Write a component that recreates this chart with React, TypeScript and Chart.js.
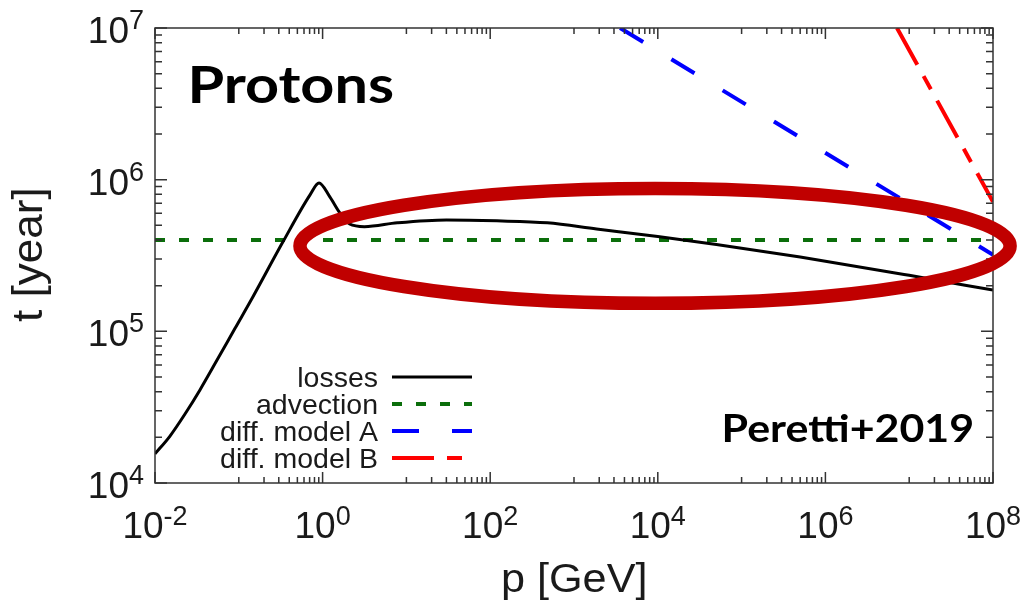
import React, { useEffect, useRef } from "react";
import { Chart, registerables } from "chart.js";

Chart.register(...registerables);

// ---------- data ----------
const X_MIN = 1e-2;
const X_MAX = 1e8;
const Y_MIN = 1e4;
const Y_MAX = 1e7;

// losses (black)
const lossesP = [1e-2, 1.51e-2, 2.28e-2, 3.44e-2, 5.5e-2, 9.02e-2, 0.1476, 0.3365, 0.708, 0.906, 1.22, 1.62, 2.1, 3.16, 7.8, 30, 120, 480, 1.86e3, 1e4, 5e4, 5e5, 1e7, 1e8];
const lossesT = [1.556e4, 2.04e4, 2.85e4, 4.11e4, 6.46e4, 1.047e5, 1.69e5, 3.89e5, 7.94e5, 9.5e5, 7.7e5, 6.0e5, 5.1e5, 4.9e5, 5.19e5, 5.42e5, 5.35e5, 5.19e5, 4.73e5, 4.22e5, 3.74e5, 3.09e5, 2.34e5, 1.87e5];

// advection (green)
const advectionP = [1e-2, 1e8];
const advectionT = [4e5, 4e5];

// diffusion model A (blue)
const diffAP = [3.55e3, 1e8];
const diffAT = [1e7, 3.2e5];

// diffusion model B (red)
const diffBP = [7.15e6, 1e8];
const diffBT = [1e7, 7.15e5];

// axis ticks
const xMajorExp = [-2, 0, 2, 4, 6, 8];
const xMinorDecadeExp = [-1, 1, 3, 5, 7];
const yMajorExp = [4, 5, 6, 7];

// highlight ellipse (data-space extents)
const ellipseP = [0.537, 1.6e8];
const ellipseT = [1.53e5, 8.75e5];

const seriesLabels = ["losses", "advection", "diff. model A", "diff. model B"];

const toXY = (xs: number[], ys: number[]) => xs.map((x, i) => ({ x, y: ys[i] }));

const TXT = "#1a1a1a";
const SANS = "'Liberation Sans', Arial, sans-serif";

function fitText(ctx: CanvasRenderingContext2D, text: string, font: string, left: number, right: number, baseline: number) {
  ctx.save();
  ctx.font = font;
  ctx.textAlign = "left";
  ctx.textBaseline = "alphabetic";
  const m = ctx.measureText(text);
  const vis = m.actualBoundingBoxLeft + m.actualBoundingBoxRight;
  const sx = (right - left) / vis;
  ctx.translate(left, baseline);
  ctx.scale(sx, 1);
  ctx.fillText(text, m.actualBoundingBoxLeft, 0);
  ctx.restore();
}

const decorPlugin = {
  id: "decor",
  afterDatasetsDraw(chart: any) {
    const ctx: CanvasRenderingContext2D = chart.ctx;
    const a = chart.chartArea;
    const xs = chart.scales.x;
    const ys = chart.scales.y;
    ctx.save();

    // frame
    ctx.strokeStyle = "#333";
    ctx.lineWidth = 1.5;
    ctx.setLineDash([]);
    ctx.strokeRect(a.left, a.top, a.right - a.left, a.bottom - a.top);

    // ticks (inward, mirrored)
    const tick = (px: number, len: number, vertical: boolean) => {
      ctx.beginPath();
      if (vertical) {
        ctx.moveTo(px, a.bottom);
        ctx.lineTo(px, a.bottom - len);
        ctx.moveTo(px, a.top);
        ctx.lineTo(px, a.top + len);
      } else {
        ctx.moveTo(a.left, px);
        ctx.lineTo(a.left + len, px);
        ctx.moveTo(a.right, px);
        ctx.lineTo(a.right - len, px);
      }
      ctx.stroke();
    };
    xMajorExp.forEach((e) => tick(xs.getPixelForValue(Math.pow(10, e)), 11, true));
    xMinorDecadeExp.forEach((e) => {
      for (let k = 1; k <= 9; k++) tick(xs.getPixelForValue(k * Math.pow(10, e)), 6, true);
    });
    yMajorExp.forEach((e) => tick(ys.getPixelForValue(Math.pow(10, e)), 12, false));
    yMajorExp.slice(0, -1).forEach((e) => {
      for (let k = 2; k <= 9; k++) tick(ys.getPixelForValue(k * Math.pow(10, e)), 7, false);
    });

    // tick labels
    const baseFont = `37px ${SANS}`;
    const supFont = `27px ${SANS}`;
    ctx.fillStyle = TXT;
    ctx.textBaseline = "alphabetic";
    ctx.textAlign = "left";
    xMajorExp.forEach((e) => {
      const px = xs.getPixelForValue(Math.pow(10, e));
      ctx.font = baseFont;
      const w1 = ctx.measureText("10").width;
      ctx.font = supFont;
      const sup = e < 0 ? "-" + Math.abs(e) : String(e);
      const w2 = ctx.measureText(sup).width;
      const start = px - (w1 + w2) / 2;
      ctx.font = baseFont;
      ctx.fillText("10", start, 538);
      ctx.font = supFont;
      ctx.fillText(sup, start + w1, 525);
    });
    yMajorExp.forEach((e) => {
      const py = ys.getPixelForValue(Math.pow(10, e));
      ctx.font = baseFont;
      const w1 = ctx.measureText("10").width;
      ctx.font = supFont;
      const sup = String(e);
      const w2 = ctx.measureText(sup).width;
      const end = 144;
      ctx.font = baseFont;
      ctx.fillText("10", end - w1 - w2, py + 15);
      ctx.font = supFont;
      ctx.fillText(sup, end - w2, py + 1);
    });

    // axis titles
    ctx.fillStyle = TXT;
    fitText(ctx, "p [GeV]", `41px ${SANS}`, 503, 645, 592);
    ctx.save();
    ctx.translate(42, 322);
    ctx.rotate(-Math.PI / 2);
    fitText(ctx, "t [year]", `42px ${SANS}`, 0, 132, 0);
    ctx.restore();

    // legend
    const ds = chart.data.datasets;
    ds.forEach((d: any, i: number) => {
      const ly = 377 + i * 27;
      ctx.fillStyle = TXT;
      ctx.font = `28.5px ${SANS}`;
      ctx.textAlign = "right";
      ctx.fillText(d.label, 378, ly + 10);
      ctx.beginPath();
      ctx.strokeStyle = d.borderColor;
      ctx.lineWidth = d.borderWidth;
      ctx.lineCap = "butt";
      ctx.setLineDash(d.borderDash || []);
      ctx.lineDashOffset = 0;
      ctx.moveTo(392, ly);
      ctx.lineTo(472, ly);
      ctx.stroke();
    });
    ctx.setLineDash([]);

    // annotations
    ctx.fillStyle = "#000";
    fitText(ctx, "Protons", `bold 52px Lato, 'Open Sans', sans-serif`, 192, 393, 103);
    fitText(ctx, "Peretti+2019", `bold 38px Lato, 'Open Sans', sans-serif`, 725, 973, 442);

    // highlight ellipse
    const ex0 = xs.getPixelForValue(ellipseP[0]);
    const ex1 = xs.getPixelForValue(ellipseP[1]);
    const ey0 = ys.getPixelForValue(ellipseT[1]);
    const ey1 = ys.getPixelForValue(ellipseT[0]);
    ctx.beginPath();
    ctx.ellipse((ex0 + ex1) / 2, (ey0 + ey1) / 2, (ex1 - ex0) / 2, (ey1 - ey0) / 2, 0, 0, Math.PI * 2);
    ctx.strokeStyle = "#c00000";
    ctx.lineWidth = 13.5;
    ctx.stroke();

    ctx.restore();
  },
};

export default function App() {
  const ref = useRef<HTMLCanvasElement>(null);
  useEffect(() => {
    const chart = new Chart(ref.current as HTMLCanvasElement, {
      type: "line",
      data: {
        datasets: [
          {
            label: seriesLabels[0],
            data: toXY(lossesP, lossesT),
            borderColor: "#000000",
            borderWidth: 3,
            pointRadius: 0,
            cubicInterpolationMode: "monotone",
            fill: false,
          },
          {
            label: seriesLabels[1],
            data: toXY(advectionP, advectionT),
            borderColor: "#0b6e0b",
            borderWidth: 4,
            borderDash: [10, 14],
            pointRadius: 0,
            fill: false,
          },
          {
            label: seriesLabels[2],
            data: toXY(diffAP, diffAT),
            borderColor: "#0000ff",
            borderWidth: 4,
            borderDash: [27, 33],
            pointRadius: 0,
            fill: false,
          },
          {
            label: seriesLabels[3],
            data: toXY(diffBP, diffBT),
            borderColor: "#ff0000",
            borderWidth: 4,
            borderDash: [42, 13, 15, 13],
            pointRadius: 0,
            fill: false,
          },
        ],
      } as any,
      options: {
        responsive: false,
        animation: false,
        layout: { padding: { left: 155, top: 28, right: 33, bottom: 121 } },
        plugins: { legend: { display: false }, tooltip: { enabled: false } },
        scales: {
          x: { type: "logarithmic", min: X_MIN, max: X_MAX, display: false },
          y: { type: "logarithmic", min: Y_MIN, max: Y_MAX, display: false },
        },
      } as any,
      plugins: [decorPlugin],
    });
    return () => chart.destroy();
  }, []);
  return (
    <div style={{ position: "fixed", left: 0, top: 0, width: 1026, height: 604, background: "#fff" }}>
      <canvas ref={ref} width={1026} height={604} style={{ display: "block", width: 1026, height: 604 }} />
    </div>
  );
}
